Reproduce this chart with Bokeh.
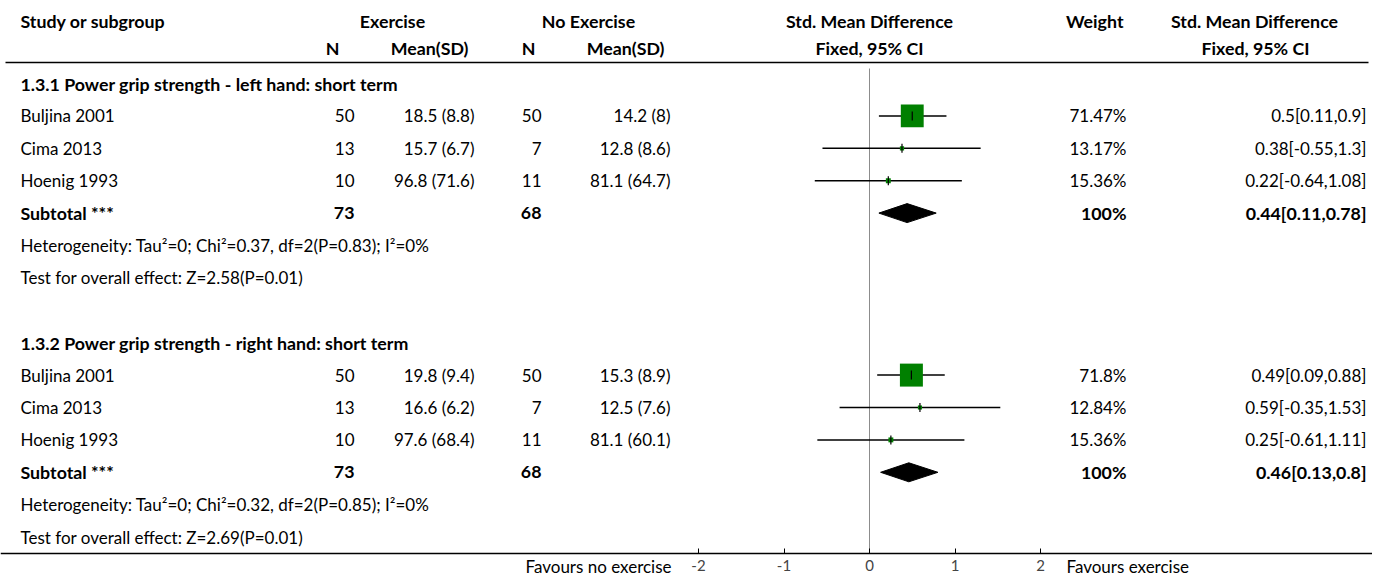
from bokeh.plotting import figure
from bokeh.models import Range1d, LinearAxis, FixedTicker, ColumnDataSource
from bokeh.core.properties import value
from bokeh.embed import file_html
from bokeh.resources import INLINE

# ---------------- data ----------------
studies = ["Buljina 2001", "Cima 2013", "Hoenig 1993"]

s1_title = "1.3.1 Power grip strength - left hand: short term"
s1_exp_n = [50, 13, 10]
s1_exp_msd = ["18.5 (8.8)", "15.7 (6.7)", "96.8 (71.6)"]
s1_ctl_n = [50, 7, 11]
s1_ctl_msd = ["14.2 (8)", "12.8 (8.6)", "81.1 (64.7)"]
s1_weight = [71.47, 13.17, 15.36]
s1_smd = [0.5, 0.38, 0.22]
s1_lo = [0.11, -0.55, -0.64]
s1_hi = [0.9, 1.3, 1.08]
s1_total = {"exp_n": 73, "ctl_n": 68, "smd": 0.44, "lo": 0.11, "hi": 0.78}
s1_het = "Heterogeneity: Tau\u00b2=0; Chi\u00b2=0.37, df=2(P=0.83); I\u00b2=0%"
s1_test = "Test for overall effect: Z=2.58(P=0.01)"

s2_title = "1.3.2 Power grip strength - right hand: short term"
s2_exp_n = [50, 13, 10]
s2_exp_msd = ["19.8 (9.4)", "16.6 (6.2)", "97.6 (68.4)"]
s2_ctl_n = [50, 7, 11]
s2_ctl_msd = ["15.3 (8.9)", "12.5 (7.6)", "81.1 (60.1)"]
s2_weight = [71.8, 12.84, 15.36]
s2_smd = [0.49, 0.59, 0.25]
s2_lo = [0.09, -0.35, -0.61]
s2_hi = [0.88, 1.53, 1.11]
s2_total = {"exp_n": 73, "ctl_n": 68, "smd": 0.46, "lo": 0.13, "hi": 0.8}
s2_het = "Heterogeneity: Tau\u00b2=0; Chi\u00b2=0.32, df=2(P=0.85); I\u00b2=0%"
s2_test = "Test for overall effect: Z=2.69(P=0.01)"

ticks = [-2, -1, 0, 1, 2]
left_label = "Favours no exercise"
right_label = "Favours exercise"

# ---------------- layout ----------------
FONT = value("Lato")
FS = "17px"
FSB = "17.8px"
ZERO_PX = 869.0
PX_PER_UNIT = 85.5
W, H = 1372, 577


def px(xp):
    return (xp - ZERO_PX) / PX_PER_UNIT


p = figure(frame_width=W, frame_height=H, x_range=Range1d(px(0), px(W)),
           y_range=Range1d(H, 0), output_backend="svg", toolbar_location=None,
           x_axis_type=None, y_axis_type=None, min_border=0)
p.outline_line_color = None
p.xgrid.visible = False
p.ygrid.visible = False

texts = {"x": [], "y": [], "t": [], "align": [], "bold": []}


def put(x, y, t, align="left", bold=False):
    texts["x"].append(x)
    texts["y"].append(y)
    texts["t"].append(str(t))
    texts["align"].append(align)
    texts["bold"].append(bold)


COL_STUDY = px(20)
COL_EN = px(354)
COL_EM = px(474)
COL_CN = px(541)
COL_CM = px(670)
COL_W = px(1126)
COL_CI = px(1366)

# headers
put(COL_STUDY, 20, "Study or subgroup", "left", True)
put(px(392), 20, "Exercise", "center", True)
put(px(588), 20, "No Exercise", "center", True)
put(0, 20, "Std. Mean Difference", "center", True)
put(px(1123), 20, "Weight", "right", True)
put(px(1254), 20, "Std. Mean Difference", "center", True)
put(px(332), 47, "N", "center", True)
put(px(468), 47, "Mean(SD)", "right", True)
put(px(528), 47, "N", "center", True)
put(px(664), 47, "Mean(SD)", "right", True)
put(0, 47, "Fixed, 95% CI", "center", True)
put(px(1255), 47, "Fixed, 95% CI", "center", True)

ROW0 = 83
STEP = 32.4

sq = {"x": [], "y": [], "size": []}
ci = {"x0": [], "x1": [], "y": []}
tk = {"x": [], "y0": [], "y1": []}
dia = {"xs": [], "ys": []}


def fmt(v):
    return f"{v:g}"


def section(k0, title, en, em, cn, cm, w, smd, lo, hi, tot, het, test):
    y = ROW0 + STEP * k0
    put(COL_STUDY, y, title, "left", True)
    for i in range(len(studies)):
        yy = ROW0 + STEP * (k0 + 1 + i)
        put(COL_STUDY, yy, studies[i])
        put(COL_EN, yy, en[i], "right")
        put(COL_EM, yy, em[i], "right")
        put(COL_CN, yy, cn[i], "right")
        put(COL_CM, yy, cm[i], "right")
        put(COL_W, yy, fmt(w[i]) + "%", "right")
        put(COL_CI, yy, f"{fmt(smd[i])}[{fmt(lo[i])},{fmt(hi[i])}]", "right")
        sq["x"].append(smd[i]); sq["y"].append(yy); sq["size"].append(w[i] * 0.32)
        ci["x0"].append(lo[i]); ci["x1"].append(hi[i]); ci["y"].append(yy)
        tk["x"].append(smd[i]); tk["y0"].append(yy - 4.5); tk["y1"].append(yy + 4.5)
    ys = ROW0 + STEP * (k0 + 4)
    put(COL_STUDY, ys, "Subtotal ***", "left", True)
    put(COL_EN, ys, tot["exp_n"], "right", True)
    put(COL_CN, ys, tot["ctl_n"], "right", True)
    put(COL_W, ys, "100%", "right", True)
    put(COL_CI, ys, f"{fmt(tot['smd'])}[{fmt(tot['lo'])},{fmt(tot['hi'])}]", "right", True)
    dia["xs"].append([tot["lo"], tot["smd"], tot["hi"], tot["smd"]])
    dia["ys"].append([ys, ys - 9.5, ys, ys + 9.5])
    put(COL_STUDY, ROW0 + STEP * (k0 + 5), het)
    put(COL_STUDY, ROW0 + STEP * (k0 + 6), test)


section(0, s1_title, s1_exp_n, s1_exp_msd, s1_ctl_n, s1_ctl_msd, s1_weight,
        s1_smd, s1_lo, s1_hi, s1_total, s1_het, s1_test)
section(8, s2_title, s2_exp_n, s2_exp_msd, s2_ctl_n, s2_ctl_msd, s2_weight,
        s2_smd, s2_lo, s2_hi, s2_total, s2_het, s2_test)

AXIS_Y = 553
put(px(671), 566, left_label, "right")
put(px(1066), 566, right_label, "left")

# rules
p.segment(x0=[px(5)], y0=[62], x1=[px(1368)], y1=[62], line_color="black", line_width=1.6)
p.segment(x0=[0], y0=[68], x1=[0], y1=[AXIS_Y], line_color="#8c8c8c", line_width=1)

# marks
p.segment(x0="x0", y0="y", x1="x1", y1="y", source=ColumnDataSource(ci), line_color="black", line_width=1.5)
p.scatter(x="x", y="y", size="size", marker="square", source=ColumnDataSource(sq),
          fill_color="#008000", line_color=None)
p.segment(x0="x", y0="y0", x1="x", y1="y1", source=ColumnDataSource(tk), line_color="black", line_width=1.2)
p.patches(xs="xs", ys="ys", source=ColumnDataSource(dia), fill_color="black", line_color="black")

# text
for bold in (False, True):
    for align in ("left", "right", "center"):
        idx = [i for i in range(len(texts["t"])) if texts["bold"][i] == bold and texts["align"][i] == align]
        if not idx:
            continue
        src = ColumnDataSource({"x": [texts["x"][i] for i in idx], "y": [texts["y"][i] for i in idx],
                                "t": [texts["t"][i] for i in idx]})
        p.text(x="x", y="y", text="t", source=src, text_font=FONT,
               text_font_size=FSB if bold else FS,
               text_align=align, text_baseline="middle", text_color="black",
               text_font_style="bold" if bold else "normal")

# axis, drawn inside the frame at a fixed location
ax = LinearAxis(ticker=FixedTicker(ticks=ticks), fixed_location=AXIS_Y,
                major_label_text_font_size="15px", major_label_text_font="Lato",
                major_label_standoff=6)
ax.axis_line_color = "black"
ax.axis_line_width = 1.6
ax.major_tick_in = 5
ax.major_tick_out = 0
ax.minor_tick_line_color = None
ax.major_tick_line_color = "black"
ax.major_label_overrides = {t: f"{t:d}" for t in ticks}
p.add_layout(ax, "below")

open("out.html", "w").write(file_html(p, INLINE))
